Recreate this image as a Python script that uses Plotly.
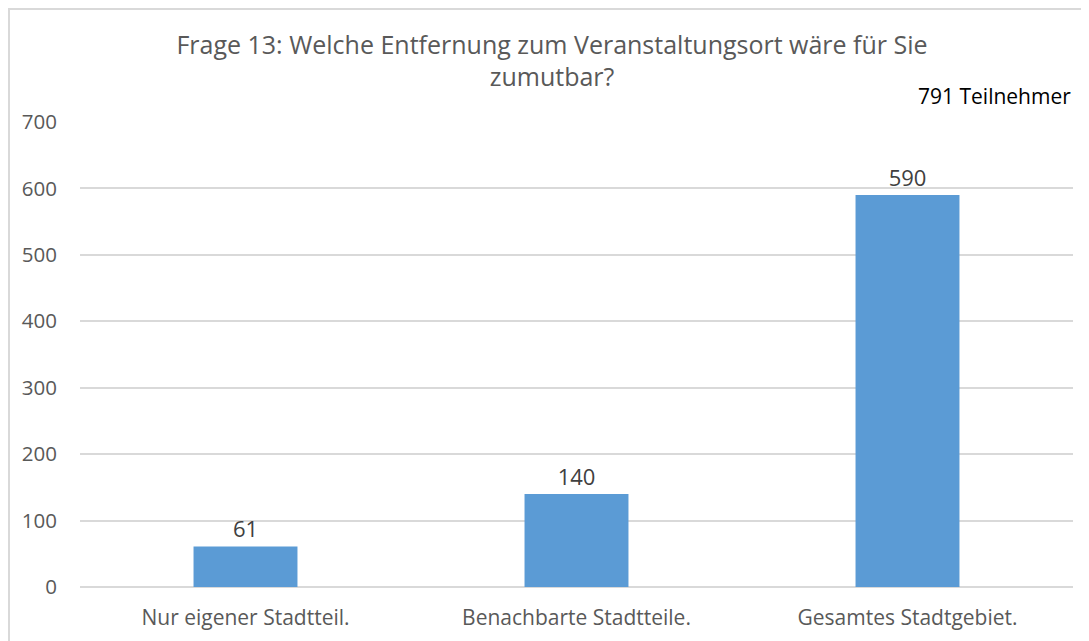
import plotly.graph_objects as go

categories = ["Nur eigener Stadtteil.", "Benachbarte Stadtteile.", "Gesamtes Stadtgebiet."]
values = [61, 140, 590]
y_ticks = [0, 100, 200, 300, 400, 500, 600, 700]
title_text = "Frage 13: Welche Entfernung zum Veranstaltungsort wäre für Sie<br>zumutbar?"
note_text = "791 Teilnehmer"

FONT = "Open Sans"
GREY = "#595959"

fig = go.Figure()
fig.add_trace(go.Bar(
    x=categories, y=values,
    marker=dict(color="#5B9BD5", line=dict(width=0)),
    width=0.314,
    text=[str(v) for v in values],
    textposition="outside",
    textfont=dict(family=FONT, size=22, color="#404040"),
    cliponaxis=False,
))

fig.update_layout(
    width=1073, height=633,
    margin=dict(l=72, r=8, t=114, b=54),
    paper_bgcolor="white", plot_bgcolor="white",
    showlegend=False,
    title=dict(text=title_text, x=0.507, xanchor="center", y=0.928, yanchor="top",
               font=dict(family=FONT, size=25, color=GREY)),
    xaxis=dict(showgrid=False, showline=False, ticks="", zeroline=False,
               ticklabelstandoff=16,
               tickfont=dict(family=FONT, size=21, color=GREY)),
    yaxis=dict(range=[0, 700], tickvals=y_ticks, showgrid=True, gridcolor="#D9D9D9",
               gridwidth=1.5, zeroline=True, zerolinecolor="#D9D9D9", zerolinewidth=1.5,
               showline=False, ticks="", ticklabelstandoff=22,
               tickfont=dict(family=FONT, size=20.5, color=GREY)),
)

fig.add_annotation(text=note_text, xref="paper", yref="paper", x=1.0, y=1.056,
                   xanchor="right", yanchor="middle", showarrow=False,
                   font=dict(family=FONT, size=21, color="#000000"))

fig.add_shape(type="rect", xref="paper", yref="paper", x0=-0.0715, x1=1.03, y0=-0.2, y1=1.243,
              line=dict(color="#D9D9D9", width=2), fillcolor="rgba(0,0,0,0)", layer="below")

fig.write_html("out.html")
